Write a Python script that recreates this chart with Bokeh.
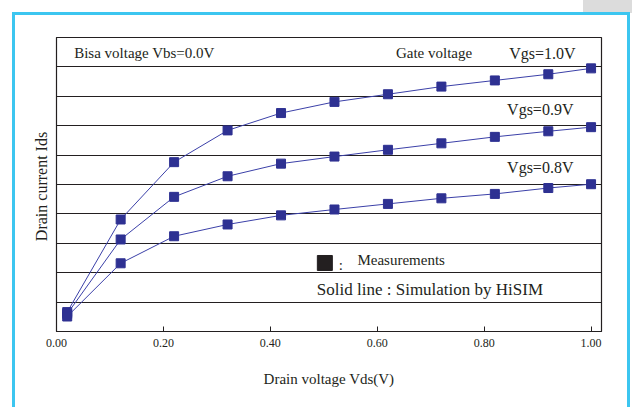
from bokeh.plotting import figure
from bokeh.models import FixedTicker, Range1d, InlineStyleSheet
from bokeh.core.properties import value
from bokeh.embed import file_html
from bokeh.resources import INLINE

# ---- data ----
vds = [0.02, 0.12, 0.22, 0.32, 0.42, 0.52, 0.62, 0.72, 0.82, 0.92, 1.00]
ids_vgs10 = [0.66, 3.81, 5.76, 6.84, 7.43, 7.81, 8.07, 8.33, 8.54, 8.75, 8.95]
ids_vgs09 = [0.60, 3.13, 4.58, 5.28, 5.71, 5.95, 6.18, 6.40, 6.62, 6.81, 6.95]
ids_vgs08 = [0.51, 2.32, 3.24, 3.64, 3.95, 4.15, 4.34, 4.53, 4.68, 4.88, 5.01]
x_ticks = [0.0, 0.2, 0.4, 0.6, 0.8, 1.0]
x_tick_labels = ["0.00", "0.20", "0.40", "0.60", "0.80", "1.00"]
y_grid = [1, 2, 3, 4, 5, 6, 7, 8, 9]

SERIF = "Liberation Serif"
INK = "#231f20"
BLUE = "#2e3192"
LINE = "#3b40a8"

p = figure(width=632, height=407, output_backend="svg", toolbar_location=None,
           x_range=Range1d(0, 1.0195), y_range=Range1d(0, 10),
           min_border_left=56, min_border_top=37, min_border_right=31,
           min_border_bottom=76, frame_width=545, frame_height=294)

p.background_fill_color = "white"
p.border_fill_color = "white"
p.outline_line_color = INK
p.outline_line_width = 1.2

# axes
p.xaxis.ticker = FixedTicker(ticks=x_ticks)
p.xaxis.major_label_overrides = {t: l for t, l in zip(x_ticks, x_tick_labels)}
p.xaxis.major_tick_in = 5
p.xaxis.major_tick_out = 0
p.xaxis.minor_tick_line_color = None
p.xaxis.axis_line_color = INK
p.xaxis.major_tick_line_color = INK
p.xaxis.major_label_text_font = SERIF
p.xaxis.major_label_text_font_size = "12px"
p.xaxis.major_label_text_color = INK
p.xaxis.major_label_standoff = 7
p.xaxis.axis_label = "Drain voltage Vds(V)"
p.xaxis.axis_label_text_font = SERIF
p.xaxis.axis_label_text_font_size = "15px"
p.xaxis.axis_label_text_font_style = "normal"
p.xaxis.axis_label_text_color = INK
p.xaxis.axis_label_standoff = 21

p.yaxis.ticker = FixedTicker(ticks=y_grid)
p.yaxis.major_label_overrides = {t: "" for t in y_grid}
p.yaxis.major_label_standoff = 0
p.yaxis.major_tick_line_color = None
p.yaxis.major_tick_out = 0
p.yaxis.minor_tick_line_color = None
p.yaxis.axis_line_color = INK
p.yaxis.axis_label = "Drain current  Ids"
p.yaxis.axis_label_text_font = SERIF
p.yaxis.axis_label_text_font_size = "16px"
p.yaxis.axis_label_text_font_style = "normal"
p.yaxis.axis_label_text_color = INK
p.yaxis.axis_label_standoff = 7

p.xgrid.grid_line_color = None
p.ygrid.grid_line_color = INK
p.ygrid.grid_line_width = 1.1

# curves
for ys in (ids_vgs10, ids_vgs09, ids_vgs08):
    p.line(vds, ys, line_color=LINE, line_width=1)
    p.scatter(vds, ys, marker="square", size=9, fill_color=BLUE, line_color=BLUE)

# annotations inside plot
def txt(x, y, s, size, align="left"):
    p.text([x], [y], text=[s], text_font=value(SERIF), text_font_size=size,
           text_color=INK, text_align=align, text_baseline="middle")

txt(0.033, 9.46, "Bisa voltage Vbs=0.0V", "15px")
txt(0.635, 9.46, "Gate voltage", "15px")
txt(0.971, 9.46, "Vgs=1.0V", "16px", "right")
txt(0.967, 7.55, "Vgs=0.9V", "16px", "right")
txt(0.967, 5.59, "Vgs=0.8V", "16px", "right")
p.scatter([0.502], [2.33], marker="square", size=15, fill_color=INK, line_color=INK)
txt(0.528, 2.25, ":", "15px")
txt(0.563, 2.415, "Measurements", "15px")
txt(0.487, 1.445, "Solid line : Simulation by HiSIM", "17px")

# page decorations (cyan frame, grey tab) drawn with CSS around the canvas
p.stylesheets = [InlineStyleSheet(css="""
:host::before {
  content: ""; position: absolute; left: 583px; top: 0px; width: 49px; height: 13px;
  background: #dcdcdc; pointer-events: none; z-index: 5;
}
:host::after {
  content: ""; position: absolute; left: 12px; top: 12px; width: 612px; height: 420px;
  border: 3px solid #3cc6f0; border-bottom: none; pointer-events: none; z-index: 6;
}
""")]

open("out.html", "w").write(file_html(p, INLINE))
